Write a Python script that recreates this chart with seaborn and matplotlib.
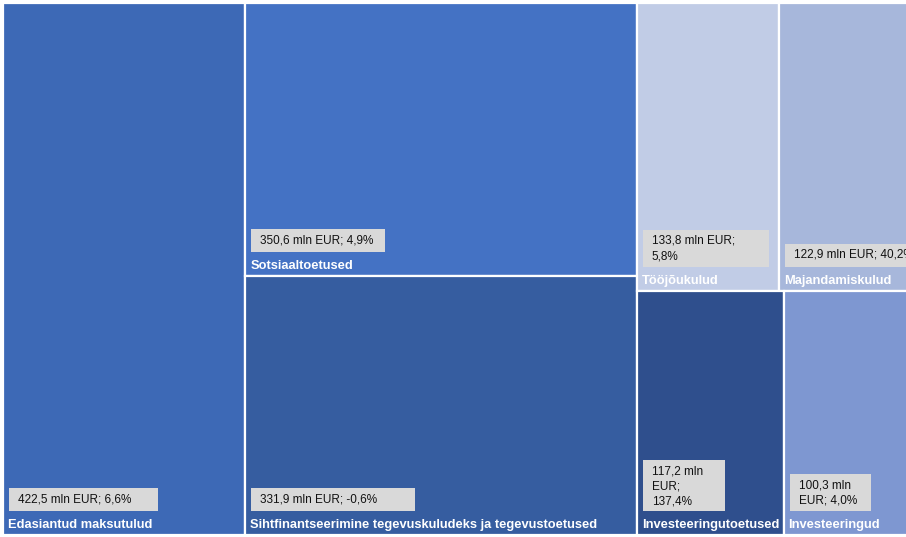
import matplotlib
matplotlib.use("Agg")
import matplotlib.pyplot as plt
from matplotlib.patches import Rectangle
import seaborn as sns

# ---- data ----
categories = ["Edasiantud maksutulud", "Sotsiaaltoetused",
              "Sihtfinantseerimine tegevuskuludeks ja tegevustoetused",
              "Tööjõukulud", "Majandamiskulud",
              "Investeeringutoetused", "Investeeringud"]
values = [422.5, 350.6, 331.9, 133.8, 122.9, 117.2, 100.3]
changes = [6.6, 4.9, -0.6, 5.8, 40.2, 137.4, 4.0]

# ---- style / layout ----
colors = ["#3D69B6", "#4472C4", "#365DA0", "#C1CCE6", "#A7B7DB", "#2F4F8D", "#7E97D1"]
# line-break style of the value label in each tile
wraps = [0, 0, 0, 1, 0, 2, 3]
box_widths = [149, 134, 164, 126, 140, 82, 81]
# tiling structure: (orientation, children)
structure = ("h", [0, ("v", [1, 2]), ("v", [("h", [3, 4]), ("h", [5, 6])])])
X0, Y0, W, H = 3, 3, 906, 532

sns.set_theme(style="white")
plt.rcParams["font.family"] = ["Liberation Sans", "DejaVu Sans"]


def total(node):
    if isinstance(node, int):
        return values[node]
    return sum(total(c) for c in node[1])


def layout(node, x, y, w, h, out):
    if isinstance(node, int):
        out[node] = (x, y, w, h)
        return
    orient, children = node
    t = total(node)
    pos = 0.0
    for c in children:
        frac = total(c) / t
        if orient == "h":
            layout(c, x + pos * w, y, w * frac, h, out)
        else:
            layout(c, x, y + pos * h, w, h * frac, out)
        pos += frac


def fmt(v):
    return f"{v:.1f}".replace(".", ",")


def value_label(i):
    a = f"{fmt(values[i])} mln EUR;"
    b = f"{fmt(changes[i])}%"
    if wraps[i] == 0:
        return a + " " + b
    if wraps[i] == 1:
        return a + "\n" + b
    if wraps[i] == 2:
        return f"{fmt(values[i])} mln\nEUR;\n{b}"
    return f"{fmt(values[i])} mln\nEUR; {b}"


rects = {}
layout(structure, X0, Y0, W, H, rects)

fig = plt.figure(figsize=(9.06, 5.37), dpi=100)
ax = fig.add_axes([0, 0, 1, 1])
ax.set_xlim(0, 906)
ax.set_ylim(537, 0)
ax.axis("off")

for i, cat in enumerate(categories):
    x, y, w, h = rects[i]
    ax.add_patch(Rectangle((x, y), w, h, facecolor=colors[i],
                           edgecolor="white", linewidth=1.6))
    bottom = y + h
    ax.text(x + 5, bottom - 4, cat, color="white", fontsize=9.3,
            fontweight="bold", ha="left", va="bottom")
    lbl = value_label(i)
    n = lbl.count("\n") + 1
    bh = 9 + 14 * n
    by = bottom - 24 - bh
    ax.add_patch(Rectangle((x + 6, by), box_widths[i], bh,
                           facecolor="#D9D9D9", edgecolor="none"))
    ax.text(x + 15, by + 5, lbl, color="#111111", fontsize=8.5,
            ha="left", va="top", linespacing=1.38)

fig.savefig("out.png", dpi=100)
